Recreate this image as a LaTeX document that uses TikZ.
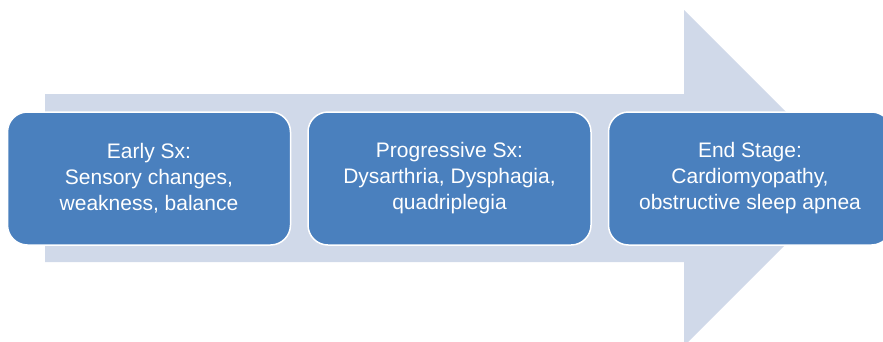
\documentclass[tikz,border=0pt]{standalone}
\usepackage{fontspec}
\setmainfont{Liberation Sans}
\usepackage{tikz}
\usepackage{xcolor}
\usetikzlibrary{positioning}

\definecolor{stageblue}{HTML}{4A80BE}
\definecolor{arrowbg}{HTML}{D0D9E9}

\begin{document}
\begin{tikzpicture}[x=1pt,y=-1pt,
  stage/.style={draw=white,line width=1.5pt,fill=stageblue,rounded corners=20pt,
    minimum width=283pt,minimum height=133pt,text=white,align=center,
    font=\fontsize{21}{26}\selectfont}]
\useasboundingbox (0,0) rectangle (883,341);
% big background arrow
\fill[arrowbg] (45,94) -- (684,94) -- (684,10) -- (852,178) -- (684,346)
  -- (684,262) -- (45,262) -- cycle;
% the three stages
\node[stage] (early) at (149,178.5) {Early Sx:\\Sensory changes,\\weakness, balance};
\node[stage,right=16pt of early] (prog) {Progressive Sx:\\Dysarthria, Dysphagia,\\quadriplegia};
\node[stage,right=16pt of prog] (endst) {End Stage:\\Cardiomyopathy,\\obstructive sleep apnea};
\end{tikzpicture}
\end{document}
